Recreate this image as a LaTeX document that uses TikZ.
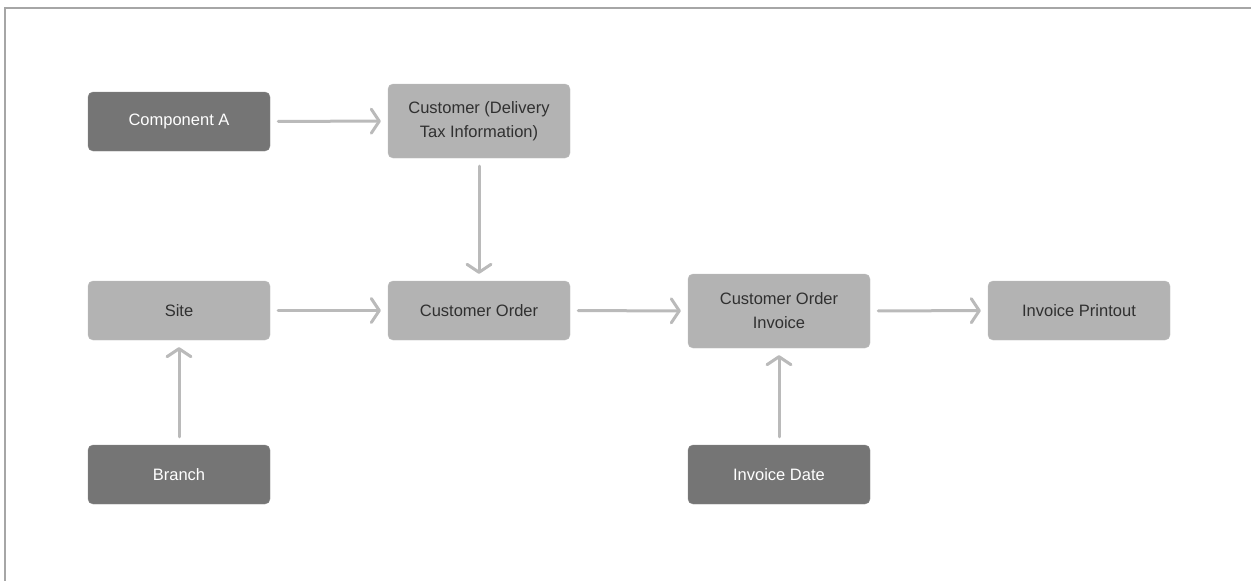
\documentclass[tikz,border=0pt]{standalone}
\usepackage{fontspec}
\setmainfont{Liberation Sans}
\usetikzlibrary{arrows.meta}
\definecolor{darkbox}{HTML}{757575}
\definecolor{lightbox}{HTML}{B3B3B3}
\definecolor{arrowgray}{HTML}{BABABA}
\definecolor{framegray}{HTML}{A6A6A6}
\definecolor{textdark}{HTML}{303030}
\tikzset{
  box/.style={rectangle, rounded corners=5pt, minimum width=182pt, inner sep=0pt, align=center, font=\fontsize{16.5}{24}\selectfont},
  darknode/.style={box, fill=darkbox, draw=darkbox!85!white, text=white, minimum height=59pt},
  lightnode/.style={box, fill=lightbox, draw=lightbox!85!white, text=textdark, minimum height=59pt},
  tallnode/.style={lightnode, minimum height=74pt},
  conn/.style={draw=arrowgray, line width=3pt, line cap=round, -{Straight Barb[length=8pt,width=24pt,line cap=round,line join=round]}, shorten <=8pt, shorten >=7pt}
}
\begin{document}
\begin{tikzpicture}[x=1pt,y=-1pt]
\useasboundingbox (0,0) rectangle (1251,581);
\draw[framegray, line width=1.5pt] (5,581) -- (5,8) -- (1251,8);
\node[darknode] (compA) at (179,121.5) {Component A};
\node[tallnode] (cust) at (479,121) {Customer (Delivery\\Tax Information)};
\node[lightnode] (site) at (179,310.5) {Site};
\node[lightnode] (order) at (479,310.5) {Customer Order};
\node[tallnode] (inv) at (779,311) {Customer Order\\Invoice};
\node[lightnode] (print) at (1079,310.5) {Invoice Printout};
\node[darknode] (branch) at (179,474.5) {Branch};
\node[darknode] (date) at (779,474.5) {Invoice Date};
\draw[conn] (compA) -- (cust);
\draw[conn] (cust) -- (order);
\draw[conn] (site) -- (order);
\draw[conn] (order) -- (inv);
\draw[conn] (inv) -- (print);
\draw[conn] (branch) -- (site);
\draw[conn] (date) -- (inv);
\end{tikzpicture}
\end{document}
